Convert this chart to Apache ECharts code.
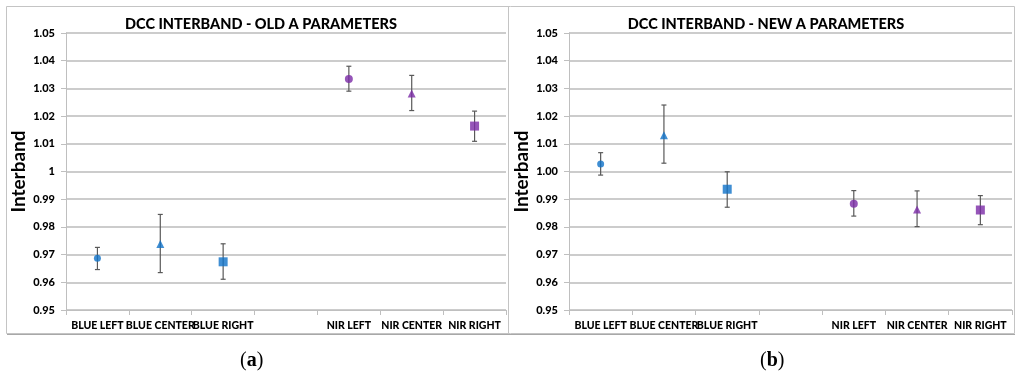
<!DOCTYPE html>
<html>
<head>
<meta charset="utf-8">
<script src="https://cdn.jsdelivr.net/npm/echarts@6/dist/echarts.min.js"></script>
<style>
html,body{margin:0;padding:0;background:#fff;}
#chart{width:1024px;height:388px;}
</style>
</head>
<body>
<div id="chart"></div>
<script>
var categories = ['BLUE LEFT', 'BLUE CENTER', 'BLUE RIGHT', '', 'NIR LEFT', 'NIR CENTER', 'NIR RIGHT'];
var yTicks = [0.95, 0.96, 0.97, 0.98, 0.99, 1.00, 1.01, 1.02, 1.03, 1.04, 1.05];

var oldValues = [0.9687, 0.9738, 0.9674, null, 1.0334, 1.0282, 1.0164];
var oldLow    = [0.9646, 0.9635, 0.9611, null, 1.0290, 1.0220, 1.0109];
var oldHigh   = [0.9726, 0.9845, 0.9739, null, 1.0380, 1.0347, 1.0218];

var newValues = [1.0027, 1.0131, 0.9936, null, 0.9884, 0.9863, 0.9861];
var newLow    = [0.9987, 1.0030, 0.9871, null, 0.9839, 0.9801, 0.9808];
var newHigh   = [1.0068, 1.0240, 0.9999, null, 0.9931, 0.9930, 0.9913];

var titles = ['DCC INTERBAND - OLD A PARAMETERS', 'DCC INTERBAND - NEW A PARAMETERS'];
var panelLabels = ['a', 'b'];
var yName = 'Interband';

var BLUE = '#0F72C8', PURPLE = '#7B2BA6';
var symbolFor = ['circle', 'triangle', 'rect', 'none', 'circle', 'triangle', 'rect'];
var sizeFor = [7, 8, 9, 0, 8, 8, 9];
var colorFor = [BLUE, BLUE, BLUE, BLUE, PURPLE, PURPLE, PURPLE];

var FONT = 'Lato';
var chart = echarts.init(document.getElementById('chart'), null, {renderer: 'canvas'});

function markerData(vals) {
  var out = [];
  for (var i = 0; i < vals.length; i++) {
    if (vals[i] == null) continue;
    out.push({
      value: [i, vals[i]],
      symbol: symbolFor[i],
      symbolSize: sizeFor[i],
      itemStyle: {color: colorFor[i]}
    });
  }
  return out;
}
function errData(low, high) {
  var out = [];
  for (var i = 0; i < low.length; i++) {
    if (low[i] == null) continue;
    out.push([i, low[i], high[i]]);
  }
  return out;
}
function errRender(params, api) {
  var x = api.coord([api.value(0), api.value(1)])[0];
  var yl = api.coord([api.value(0), api.value(1)])[1];
  var yh = api.coord([api.value(0), api.value(2)])[1];
  var st = {stroke: '#595959', lineWidth: 1.2};
  var c = 2.5;
  return {type: 'group', children: [
    {type: 'line', shape: {x1: x, y1: yl, x2: x, y2: yh}, style: st},
    {type: 'line', shape: {x1: x - c, y1: yh, x2: x + c, y2: yh}, style: st},
    {type: 'line', shape: {x1: x - c, y1: yl, x2: x + c, y2: yl}, style: st}
  ]};
}

function xAxis(gi) {
  return {
    type: 'category', gridIndex: gi, data: categories, boundaryGap: true,
    axisLine: {show: true, lineStyle: {color: '#bfbfbf', width: 1}},
    axisTick: {show: true, length: 5, lineStyle: {color: '#bfbfbf'}},
    axisLabel: {interval: 0, color: '#000', fontFamily: FONT, fontWeight: 900, fontSize: 10.5, margin: 10},
    splitLine: {show: false}
  };
}
function yAxis(gi, fmt) {
  return {
    type: 'value', gridIndex: gi, min: 0.95, max: 1.05, interval: 0.01,
    name: yName, nameLocation: 'middle', nameGap: 38, nameRotate: 90,
    nameTextStyle: {color: '#000', fontFamily: FONT, fontWeight: 'bold', fontSize: 19},
    axisLine: {show: true, lineStyle: {color: '#bfbfbf', width: 1}},
    axisTick: {show: true, length: 5, lineStyle: {color: '#bfbfbf'}},
    axisLabel: {color: '#000', fontFamily: FONT, fontWeight: 900, fontSize: 11, margin: 11, formatter: fmt},
    splitLine: {show: true, lineStyle: {color: '#cccccc', width: 2}}
  };
}

var option = {
  backgroundColor: '#ffffff',
  animation: false,
  title: [
    {text: titles[0], left: 256, top: 12, textAlign: 'center', textStyle: {fontFamily: FONT, fontWeight: 900, fontSize: 14.5, color: '#000'}},
    {text: titles[1], left: 761, top: 12, textAlign: 'center', textStyle: {fontFamily: FONT, fontWeight: 900, fontSize: 14.5, color: '#000'}}
  ],
  grid: [
    {left: 66, right: 518, top: 33, bottom: 78},
    {left: 569, right: 12, top: 33, bottom: 78}
  ],
  xAxis: [xAxis(0), xAxis(1)],
  yAxis: [
    yAxis(0, function (v) { return String(+v.toFixed(2)); }),
    yAxis(1, function (v) { return v.toFixed(2); })
  ],
  series: [
    {type: 'custom', xAxisIndex: 0, yAxisIndex: 0, renderItem: errRender, data: errData(oldLow, oldHigh), z: 2},
    {type: 'custom', xAxisIndex: 1, yAxisIndex: 1, renderItem: errRender, data: errData(newLow, newHigh), z: 2},
    {type: 'scatter', xAxisIndex: 0, yAxisIndex: 0, data: markerData(oldValues), z: 3},
    {type: 'scatter', xAxisIndex: 1, yAxisIndex: 1, data: markerData(newValues), z: 3}
  ],
  graphic: [
    {type: 'rect', shape: {x: 6.5, y: 6.5, width: 1008, height: 327}, style: {fill: 'none', stroke: '#c4c4c4', lineWidth: 1}, z: -1},
    {type: 'line', shape: {x1: 7, y1: 334.5, x2: 1015, y2: 334.5}, style: {stroke: '#a8a8a8', lineWidth: 1}, z: -1},
    {type: 'line', shape: {x1: 508.5, y1: 6, x2: 508.5, y2: 334}, style: {stroke: '#c4c4c4', lineWidth: 1}, z: -1},
    {type: 'text', left: 240, top: 351, style: {
      text: '(' + '{b|' + panelLabels[0] + '}' + ')', fontFamily: 'Liberation Serif', fontSize: 20, fill: '#000',
      rich: {b: {fontFamily: 'Liberation Serif', fontWeight: 'bold', fontSize: 20, fill: '#000'}}}},
    {type: 'text', left: 760, top: 351, style: {
      text: '(' + '{b|' + panelLabels[1] + '}' + ')', fontFamily: 'Liberation Serif', fontSize: 20, fill: '#000',
      rich: {b: {fontFamily: 'Liberation Serif', fontWeight: 'bold', fontSize: 20, fill: '#000'}}}}
  ]
};
chart.setOption(option);
</script>
</body>
</html>
